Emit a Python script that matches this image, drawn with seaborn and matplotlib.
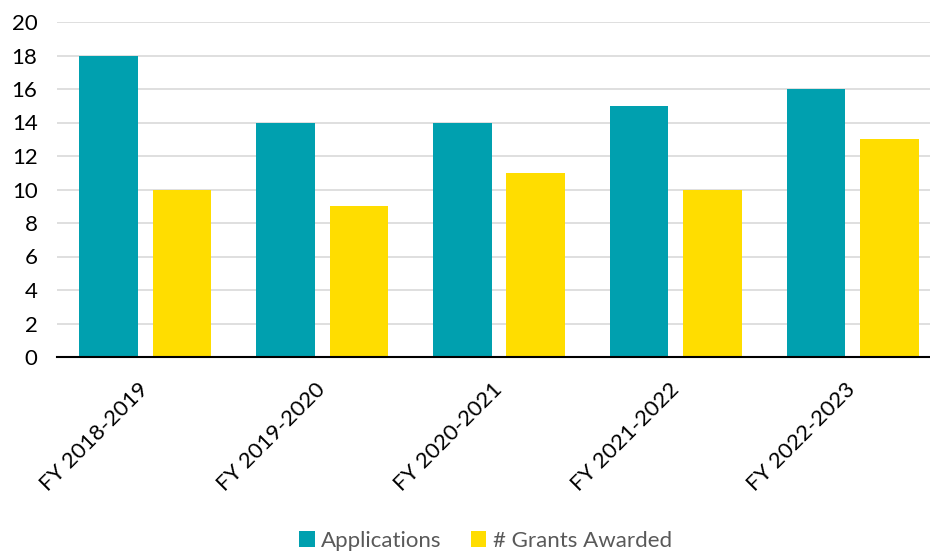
import matplotlib.pyplot as plt
import pandas as pd
import seaborn as sns

years = ["FY 2018-2019", "FY 2019-2020", "FY 2020-2021", "FY 2021-2022", "FY 2022-2023"]
applications = [18, 14, 14, 15, 16]
grants_awarded = [10, 9, 11, 10, 13]
series_names = ["Applications", "# Grants Awarded"]
colors = ["#00A0AF", "#FFDD00"]

df = pd.DataFrame({
    "year": years * 2,
    "series": [series_names[0]] * len(years) + [series_names[1]] * len(years),
    "value": applications + grants_awarded,
})

sns.set_theme(style="white")
plt.rcParams["font.family"] = ["Lato", "DejaVu Sans"]

fig = plt.figure(figsize=(9.3, 5.52), dpi=100)
ax = fig.add_axes([57 / 930, 195 / 552, 884 / 930, 335 / 552])

sns.barplot(data=df, x="year", y="value", hue="series", palette=colors,
            width=0.83, gap=0.2, saturation=1, linewidth=0, ax=ax)

ax.set_ylim(0, 20)
ax.set_yticks(range(0, 21, 2))
ax.yaxis.grid(True, color="#D9D9D9", linewidth=1.2)
ax.set_axisbelow(True)
for s in ["left", "right", "top"]:
    ax.spines[s].set_visible(False)
ax.spines["bottom"].set_color("#000000")
ax.spines["bottom"].set_linewidth(1.5)
ax.set_xlabel("")
ax.set_ylabel("")
ax.tick_params(axis="y", labelsize=16, length=0, pad=14, labelcolor="#000000")
ax.tick_params(axis="x", labelsize=16, length=0, pad=21, labelcolor="#000000")
for lab in ax.get_xticklabels():
    lab.set_rotation(45)
    lab.set_ha("right")
    lab.set_va("center")
    lab.set_rotation_mode("anchor")

leg = ax.legend(loc="center", bbox_to_anchor=(0.4847, -0.549),
                ncol=2, frameon=False, fontsize=16, handlelength=0.7, handleheight=0.7,
                handletextpad=0.3, columnspacing=1.3)
for t in leg.get_texts():
    t.set_color("#595959")

fig.savefig("out.png", dpi=100)
